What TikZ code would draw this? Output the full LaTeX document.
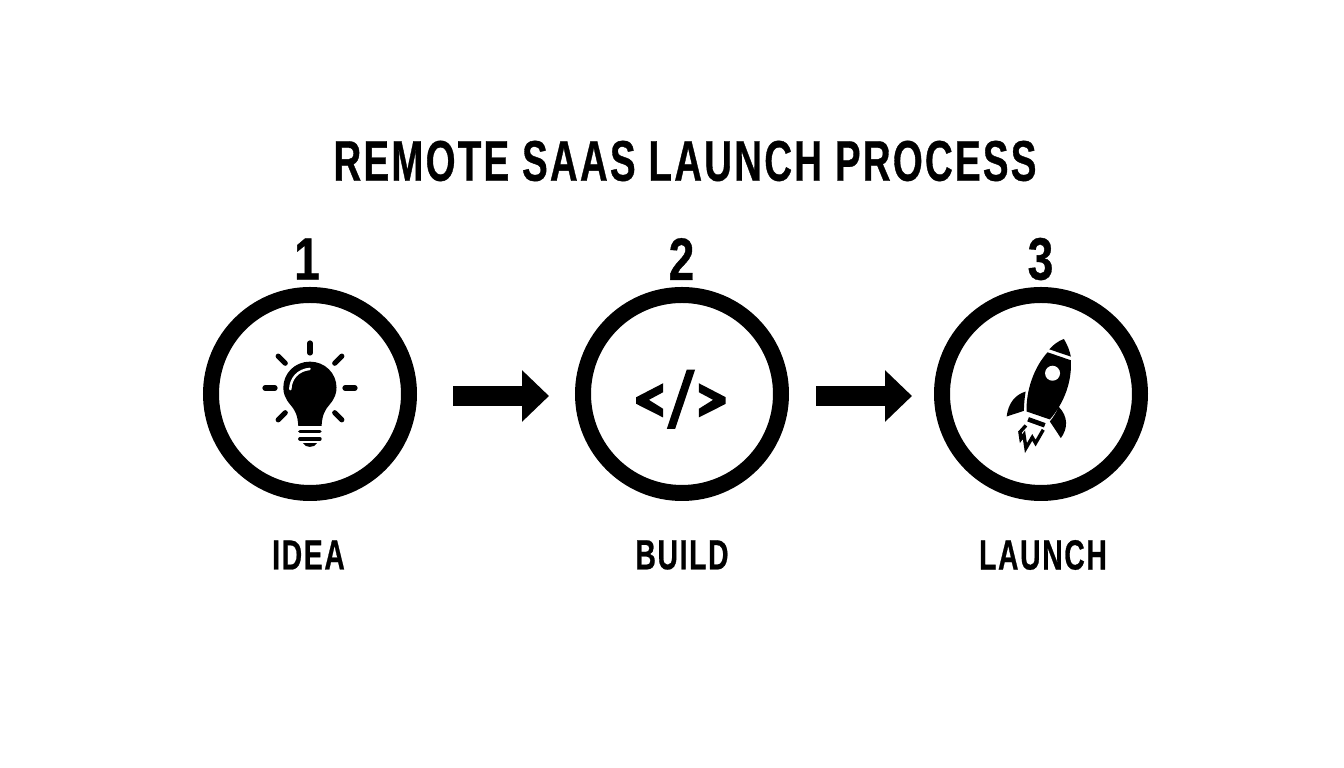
\documentclass[tikz,border=0pt]{standalone}
\usepackage{fontspec}
\setmainfont[FakeStretch=0.67,LetterSpace=4,FakeBold=0.6]{Liberation Sans Bold}
\usetikzlibrary{arrows.meta, positioning}
\tikzset{
  stepcirc/.style={circle, draw=black, line width=0.16cm, minimum size=1.98cm},
  flow/.style={line width=0.2cm, -{Triangle[length=0.27cm,width=0.5cm]}},
  steplabel/.style={font=\fontsize{12}{14}\selectfont, text=black},
  stepnum/.style={font=\fontsize{17}{20}\selectfont, text=black, xscale=1.15, transform shape},
  ray/.style={line width=0.052cm, line cap=round},
  bulbline/.style={line width=0.036cm, line cap=round}
}
\begin{document}
\begin{tikzpicture}
\useasboundingbox (0,0) rectangle (13.44,7.68);
\fill[white] (0,0) rectangle (13.44,7.68);
\node[font=\fontsize{16.3}{20}\selectfont] (title) at (6.85,6.07) {REMOTE SAAS LAUNCH PROCESS};

\node[stepcirc] (idea) at (3.10,3.74) {};
\node[stepcirc] (build) at (6.82,3.74) {};
\node[stepcirc] (launch) at (10.41,3.74) {};

\node[stepnum] (num1) at (3.07,5.09) {1};
\node[stepnum] (num2) at (6.815,5.09) {2};
\node[stepnum] (num3) at (10.405,5.09) {3};

\node[steplabel] (lab1) at (3.085,2.13) {IDEA};
\node[steplabel] (lab2) at (6.82,2.13) {BUILD};
\node[steplabel] (lab3) at (10.43,2.13) {LAUNCH};

\draw[flow, shorten <=0.36cm, shorten >=0.26cm] ([yshift=-0.02cm]idea.east) -- ([yshift=-0.02cm]build.west);
\draw[flow, shorten <=0.27cm, shorten >=0.22cm] ([yshift=-0.02cm]build.east) -- ([yshift=-0.02cm]launch.west);

% bulb
\begin{scope}[shift={(2.75,4.13)}, x=0.00333cm, y=-0.00333cm]
\fill (70,213) .. controls (68,180) and (60,165) .. (45,148)
  .. controls (30,130) and (25,115) .. (25,98)
  .. controls (25,55) and (60,20) .. (105,20)
  .. controls (150,20) and (185,55) .. (185,98)
  .. controls (185,115) and (180,130) .. (165,148)
  .. controls (150,165) and (142,180) .. (140,213) -- cycle;
\draw[white, line width=0.025cm, line cap=round] (46,103) .. controls (47,70) and (70,45) .. (104,42);
\draw[bulbline] (75,230) -- (135,230);
\draw[bulbline] (75,252) -- (135,252);
\fill (84,265) -- (126,265) .. controls (120,280) and (90,280) .. (84,265) -- cycle;
\end{scope}
\foreach \a in {0,45,90,135,180,225,315}
  \draw[ray, shift={(3.10,3.80)}] (\a:0.35) -- (\a:0.45);

% code
\begin{scope}[shift={(4.40,4.28)}, x=0.00333cm, y=-0.00333cm]
\fill (590,172) -- (671,130) -- (671,157) -- (628,180) -- (671,207) -- (671,233) -- (590,192) -- cycle;
\fill (859,172) -- (778,130) -- (778,157) -- (821,180) -- (778,207) -- (778,233) -- (859,192) -- cycle;
\fill (742,89) -- (767,89) -- (707,267) -- (682,267) -- cycle;
\end{scope}

% rocket
\begin{scope}[shift={(10.00,4.33)}, x=0.00333cm, y=-0.00333cm]
\fill (148,43) .. controls (160,30) and (175,18) .. (192,12)
  .. controls (203,30) and (210,48) .. (213,65) -- cycle;
\fill (143,52) -- (213,76) .. controls (216,120) and (205,190) .. (150,254)
  -- (80,230) .. controls (78,170) and (100,100) .. (143,52) -- cycle;
\fill[white] (158,115) circle (0.075cm);
\fill (77,170) .. controls (45,180) and (25,205) .. (20,245)
  -- (72,228) .. controls (72,205) and (74,190) .. (77,170) -- cycle;
\fill (176,215) .. controls (170,232) and (162,245) .. (150,260)
  -- (183,310) .. controls (205,280) and (205,245) .. (176,215) -- cycle;
\fill (87,247) -- (137,265) -- (132,278) -- (82,260) -- cycle;
\draw[line width=0.034cm, line join=miter] (78,272) -- (60,292) -- (63,312) -- (72,300) -- (78,340) -- (97,308) -- (107,325) -- (130,285);
\end{scope}
\end{tikzpicture}
\end{document}
